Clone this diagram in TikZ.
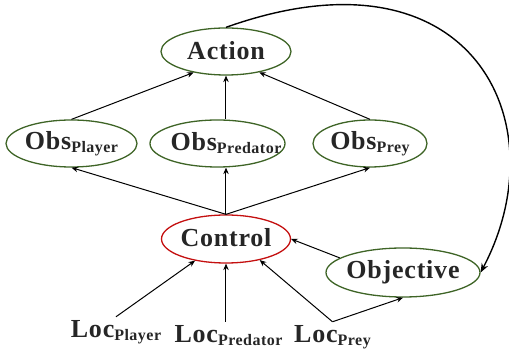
\documentclass[tikz,border=0pt]{standalone}
\usepackage{fontspec}
\usepackage{tikz}
\usetikzlibrary{shapes,arrows,positioning,calc,arrows.meta}
\usepackage{xcolor}
\definecolor{obscolor}{RGB}{62, 100, 38}
\definecolor{controlcolor}{RGB}{196, 16, 16}
\definecolor{textcolor}{RGB}{38, 38, 38}
\newfontfamily\lblfamily[LetterSpace=3]{Liberation Serif}
\newcommand{\nm}[2]{\makebox[0pt]{\lblfamily\bfseries\fontsize{26}{30}\selectfont #1\raisebox{-3pt}{\fontsize{16}{18}\selectfont #2}}}

\begin{document}
\begin{tikzpicture}[
    x=1pt, y=1pt,
    nodetype/.style={ellipse, draw=obscolor, line width=1.3pt, inner sep=0pt, minimum height=47pt, text=textcolor},
    loctype/.style={inner sep=4pt, anchor=base, text=textcolor},
    arr/.style={-{Stealth[length=6.5pt,width=5.5pt]}, line width=1pt},
    looparr/.style={-{Stealth[length=9pt,width=7pt]}, line width=1.4pt}
]
    \useasboundingbox (-226,-111) rectangle (283,239);

    % Action
    \node[nodetype, minimum width=130pt] (action) at (0, 187.5) {\nm{Action}{}};

    % Observations
    \node[nodetype, minimum width=131pt] (obsplayer) at (-154.5, 95.5) {\nm{Obs}{Player}};
    \node[nodetype, minimum width=135pt] (obspred) at (-8.5, 95.5) {\hspace{17pt}\nm{Obs}{Predator}};
    \node[nodetype, minimum width=114pt] (obsprey) at (144, 95.5) {\nm{Obs}{Prey}};

    % Control
    \node[nodetype, draw=controlcolor, minimum width=129pt, minimum height=48pt] (control) at (0, 0) {\nm{Control}{}};

    % Objective
    \node[nodetype, minimum width=154pt, minimum height=49pt] (objective) at (177, -33.5) {\nm{Objective}{}};

    % Locations
    \node[loctype] (locplayer) at (-110, -99) {\nm{Loc}{Player}};
    \node[loctype] (locpred) at (2.5, -104) {\nm{Loc}{Predator}};
    \node[loctype] (locprey) at (106.5, -104) {\nm{Loc}{Prey}};

    % Control to observations
    \draw[arr] (control.north) -- (obsplayer.south);
    \draw[arr] (control.north) -- (control.north |- obspred.south);
    \draw[arr] (control.north) -- (obsprey.south);

    % Observations to action
    \draw[arr] (obsplayer.north) -- (action.213);
    \draw[arr] (action.south |- obspred.north) -- (action.south);
    \draw[arr] (obsprey.north) -- (action.328);

    % Locations to control and objective
    \draw[arr] (locplayer.north) -- (control.215);
    \draw[arr] (control.south |- locpred.north) -- (control.south);
    \draw[arr] (locprey.north) -- (control.328);
    \draw[arr] (locprey.north) -- (objective.south);
    \draw[arr] (objective.167) -- (control.east);

    % Action back to objective
    \draw[looparr] (action.north) .. controls +(244,87) and +(80,152) .. (objective.east);
\end{tikzpicture}
\end{document}
